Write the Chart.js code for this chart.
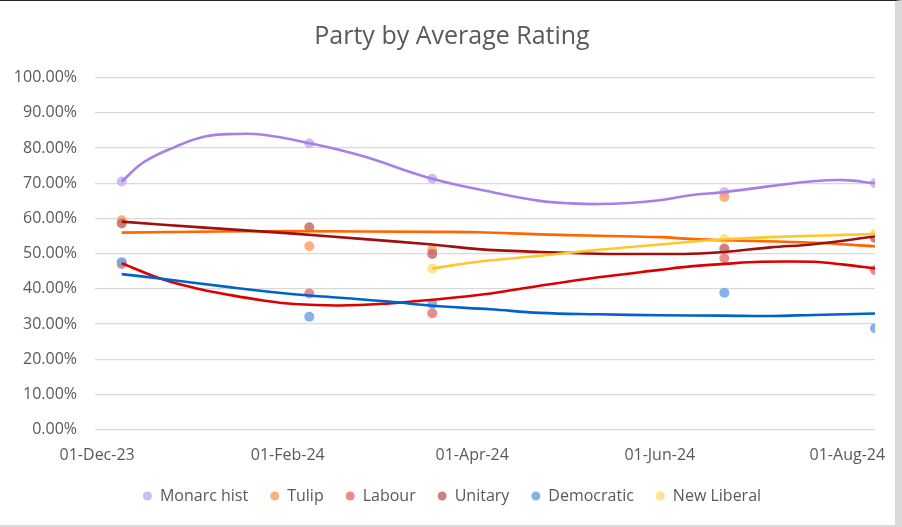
<!DOCTYPE html>
<html>
<head>
<meta charset="utf-8">
<script src="https://cdn.jsdelivr.net/npm/chart.js@4.4.1/dist/chart.umd.min.js"></script>
<style>
  html, body { margin: 0; padding: 0; background: #fff; }
  #frame {
    position: absolute; left: 0; top: 0;
    width: 902px; height: 527px; box-sizing: border-box;
    border-top: 1px solid #222;
    border-right: 7px solid #d9d9d9;
    border-bottom: 2px solid #d9d9d9;
  }
  #box { position: relative; width: 895px; height: 524px; }
</style>
</head>
<body>
<div id="frame"><div id="box"><canvas id="chartParty"></canvas></div></div>
<script>
// survey dates and average ratings (%) per party
const pointDates = ["2023-12-09", "2024-02-08", "2024-03-19", "2024-06-22", "2024-08-10"];
const monarchist = [70.5, 81.3, 71.3, 67.5, 70.0];
const tulip = [59.5, 52.1, 51.1, 66.1, 55.0];
const labour = [47.1, 38.7, 33.1, 48.7, 45.4];
const unitary = [58.6, 57.5, 49.9, 51.5, 54.5];
const democratic = [47.6, 32.1, 35.7, 38.9, 28.8];
const newLiberal = [null, null, 45.8, 54.2, 55.7];

const seriesNames = ["Monarc hist", "Tulip", "Labour", "Unitary", "Democratic", "New Liberal"];

// trendlines: [days after 01-Dec-23, %]
const monarchTrend = [[8,70.5],[15,75.9],[25,80.2],[35,83.3],[45,84.0],[54,83.8],[69,81.4],[86,77.8],[109,71.3],[129,67.4],[144,65.0],[154,64.3],[163,64.1],[173,64.4],[183,65.2],[193,66.6],[204,67.5],[219,69.2],[233,70.6],[243,70.9],[253,70.0]];
const tulipTrend = [[8,56.0],[40,56.3],[64,56.4],[109,56.2],[124,56.1],[144,55.5],[163,55.1],[183,54.7],[193,54.2],[204,53.8],[233,53.1],[253,52.1]];
const labourTrend = [[8,47.3],[21,42.8],[32,40.2],[43,38.3],[54,36.7],[64,35.7],[79,35.3],[95,35.9],[109,36.9],[128,38.7],[144,40.9],[163,43.3],[183,45.4],[193,46.4],[204,47.1],[216,47.7],[233,47.7],[243,46.9],[253,45.8]];
const unitaryTrend = [[8,59.1],[35,57.4],[64,55.7],[86,54.2],[109,52.6],[124,51.3],[144,50.5],[163,50.0],[183,49.9],[193,50.0],[204,50.5],[219,51.8],[233,52.7],[253,54.9]];
const democraticTrend = [[8,44.2],[21,42.9],[43,40.5],[64,38.5],[79,37.5],[95,36.4],[109,35.2],[128,34.2],[144,33.2],[163,32.8],[183,32.5],[204,32.4],[219,32.3],[233,32.6],[253,33.0]];
const newLiberalTrend = [[109,45.8],[124,47.7],[144,49.4],[163,51.1],[183,52.6],[193,53.4],[204,54.1],[219,54.7],[233,55.1],[253,55.6]];

const tickDates = ["2023-12-01", "2024-02-01", "2024-04-01", "2024-06-01", "2024-08-01"];
const tickLabels = ["01-Dec-23", "01-Feb-24", "01-Apr-24", "01-Jun-24", "01-Aug-24"];

const seriesValues = [monarchist, tulip, labour, unitary, democratic, newLiberal];
const trendSamples = [monarchTrend, tulipTrend, labourTrend, unitaryTrend, democraticTrend, newLiberalTrend];

const pointColours = ["rgba(198,176,240,0.85)", "rgba(255,160,108,0.85)", "rgba(234,118,118,0.85)", "rgba(196,108,108,0.85)", "rgba(110,166,228,0.85)", "rgba(255,222,130,0.85)"];
const trendColours = ["#a77fe6", "#ff6600", "#dc0000", "#9e1010", "#0063cc", "#ffc72c"];

function dayOf(s) {
  const p = s.split("-").map(Number);
  return (Date.UTC(p[0], p[1] - 1, p[2]) - Date.UTC(2023, 11, 1)) / 86400000;
}

const pointSets = seriesValues.map((vals, i) => ({
  label: seriesNames[i],
  data: vals.map((v, j) => v == null ? null : { x: dayOf(pointDates[j]), y: v }).filter(Boolean),
  backgroundColor: pointColours[i],
  borderColor: pointColours[i],
  borderWidth: 0,
  pointRadius: 5,
  pointHoverRadius: 5,
  showLine: false,
  order: 20 - i,
}));

const trendSets = trendSamples.map((s, i) => ({
  label: seriesNames[i] + " trend",
  data: s.map(d => ({ x: d[0], y: d[1] })),
  showLine: true,
  borderColor: trendColours[i],
  backgroundColor: trendColours[i],
  borderWidth: 2.6,
  pointRadius: 0,
  tension: 0.4,
  fill: false,
  order: 10 - i,
}));

Chart.defaults.font.family = "'Open Sans', sans-serif";
Chart.defaults.color = "#595959";

const ctx = document.getElementById("chartParty").getContext("2d");
new Chart(ctx, {
  type: "scatter",
  data: { datasets: pointSets.concat(trendSets) },
  options: {
    responsive: true,
    maintainAspectRatio: false,
    animation: false,
    layout: { padding: { left: 9, right: 0, top: 0, bottom: 11 } },
    scales: {
      x: {
        type: "linear",
        min: -0.7,
        max: 253,
        grid: { display: false, drawTicks: true, tickLength: 16 },
        border: { display: false },
        afterBuildTicks: (scale) => {
          scale.ticks = tickDates.map(d => ({ value: dayOf(d) }));
        },
        afterFit: (scale) => { scale.height = 36.3; },
        ticks: {
          autoSkip: false,
          maxRotation: 0,
          padding: 0,
          font: { size: 16 },
          callback: (v, i) => tickLabels[i],
        },
      },
      y: {
        min: 0,
        max: 100,
        afterFit: (scale) => { scale.width = 86; },
        grid: { color: "#d9d9d9", lineWidth: 1.3, drawTicks: false },
        border: { display: false },
        ticks: {
          stepSize: 10,
          padding: 18,
          font: { size: 16 },
          callback: (v) => v.toFixed(2) + "%",
        },
      },
      y2: {
        position: "right",
        afterFit: (scale) => { scale.width = 20; },
        grid: { display: false },
        border: { display: false },
        ticks: { display: false },
      },
    },
    plugins: {
      tooltip: { enabled: false },
      title: {
        display: true,
        text: "Party by Average Rating",
        color: "#595959",
        font: { size: 25, weight: "normal" },
        padding: { top: 20.6, bottom: 26.1 },
      },
      legend: {
        position: "bottom",
        labels: {
          usePointStyle: true,
          pointStyle: "circle",
          pointStyleWidth: 9,
          boxHeight: 6.4,
          padding: 22,
          color: "#595959",
          font: { size: 16 },
          filter: (item) => item.datasetIndex < 6,
          sort: (a, b) => a.datasetIndex - b.datasetIndex,
        },
      },
    },
  },
});
</script>
</body>
</html>
